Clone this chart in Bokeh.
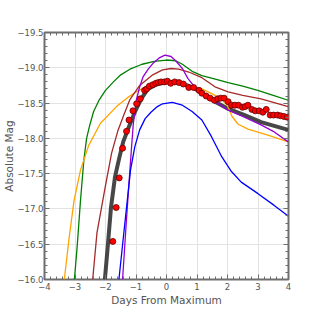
from bokeh.plotting import figure
from bokeh.models import Range1d, SingleIntervalTicker, LinearAxis, CustomJSTickFormatter, Grid, Title
from bokeh.embed import file_html
from bokeh.resources import INLINE

# ---- data ----
black_day = [-2.02, -1.92, -1.82, -1.69, -1.55, -1.42, -1.2, -1.04, -0.83, -0.61, -0.3, 0.1, 0.3, 0.52, 0.95, 1.27, 1.59, 2.02, 2.56, 3.10, 3.99]
black_mag = [-16.0, -16.5, -17.02, -17.45, -17.72, -17.95, -18.2, -18.37, -18.56, -18.70, -18.77, -18.80, -18.80, -18.78, -18.70, -18.61, -18.52, -18.42, -18.33, -18.23, -18.12]

green_day = [-3.02, -2.93, -2.82, -2.71, -2.62, -2.52, -2.39, -2.2, -2.0, -1.74, -1.5, -1.2, -0.8, -0.4, 0.0, 0.3, 0.52, 0.84, 1.16, 1.6, 2.02, 2.5, 2.99, 3.5, 3.99]
green_mag = [-16.0, -16.46, -17.12, -17.69, -18.0, -18.18, -18.38, -18.55, -18.68, -18.80, -18.9, -18.98, -19.05, -19.09, -19.11, -19.10, -19.05, -18.95, -18.89, -18.84, -18.79, -18.74, -18.68, -18.61, -18.54]

orange_day = [-3.35, -3.19, -3.03, -2.82, -2.55, -2.17, -1.64, -1.3, -0.99, -0.45, 0.0, 0.3, 0.6, 0.9, 1.16, 1.5, 1.8, 2.0, 2.15, 2.35, 2.67, 3.3, 3.99]
orange_mag = [-16.0, -16.60, -17.12, -17.55, -17.90, -18.21, -18.45, -18.57, -18.66, -18.78, -18.81, -18.80, -18.77, -18.72, -18.70, -18.63, -18.56, -18.46, -18.31, -18.2, -18.13, -18.05, -17.95]

brown_day = [-2.42, -2.28, -2.01, -1.80, -1.6, -1.4, -1.2, -0.88, -0.45, -0.13, 0.15, 0.4, 0.73, 1.16, 1.59, 2.02, 2.5, 3.10, 3.99]
brown_mag = [-16.0, -16.66, -17.31, -17.79, -18.1, -18.33, -18.55, -18.75, -18.90, -18.97, -18.99, -18.98, -18.94, -18.86, -18.73, -18.66, -18.61, -18.56, -18.45]

purple_day = [-1.44, -1.32, -1.2, -1.15, -1.09, -0.99, -0.88, -0.77, -0.6, -0.45, -0.24, -0.05, 0.15, 0.3, 0.52, 0.7, 0.9, 1.2, 1.6, 2.02, 2.5, 3.10, 3.5, 3.99]
purple_mag = [-16.0, -16.8, -17.55, -17.85, -18.2, -18.54, -18.73, -18.87, -18.98, -19.06, -19.14, -19.18, -19.16, -19.10, -18.99, -18.85, -18.74, -18.65, -18.52, -18.40, -18.31, -18.19, -18.1, -17.95]

blue_day = [-1.56, -1.37, -1.18, -1.04, -0.88, -0.7, -0.51, -0.3, -0.13, 0.19, 0.52, 0.84, 1.16, 1.48, 1.81, 2.13, 2.45, 2.99, 3.53, 3.99]
blue_mag = [-16.0, -16.78, -17.55, -17.88, -18.12, -18.28, -18.37, -18.45, -18.49, -18.51, -18.47, -18.38, -18.26, -18.02, -17.74, -17.53, -17.38, -17.22, -17.05, -16.90]

obs_day = [-1.76, -1.65, -1.55, -1.44, -1.31, -1.23, -1.10, -0.98, -0.86, -0.72, -0.65, -0.56, -0.45, -0.35, -0.27, -0.18,
           -0.07, 0.03, 0.14, 0.27, 0.41, 0.55, 0.73, 0.89, 1.07, 1.16, 1.30, 1.43, 1.57, 1.68, 1.78, 1.89, 2.02, 2.13,
           2.24, 2.36, 2.49, 2.58, 2.67, 2.80, 2.91, 3.04, 3.16, 3.27, 3.40, 3.51, 3.64, 3.74, 3.85, 3.96]
obs_mag = [-16.54, -17.02, -17.44, -17.86, -18.10, -18.26, -18.39, -18.49, -18.56, -18.68, -18.70, -18.74, -18.76, -18.78, -18.79, -18.80,
           -18.80, -18.81, -18.78, -18.80, -18.79, -18.77, -18.72, -18.72, -18.68, -18.64, -18.60, -18.57, -18.54, -18.56, -18.57, -18.57, -18.52, -18.47,
           -18.47, -18.47, -18.44, -18.45, -18.47, -18.41, -18.39, -18.39, -18.37, -18.41, -18.33, -18.33, -18.33, -18.32, -18.31, -18.30]

x_label = "Days From Maximum"
y_label = "Absolute Mag"

FONT = "DejaVu Sans"
GRAY = "#555555"
EDGE = "#6e6e6e"

p = figure(width=320, height=320, output_backend="svg", toolbar_location=None,
           x_range=Range1d(-4, 4), y_range=Range1d(-16.0, -19.5),
           x_axis_location=None, y_axis_location=None,
           min_border_left=40, min_border_right=32, min_border_top=32, min_border_bottom=41)
p.background_fill_color = "white"
p.border_fill_color = "white"
p.outline_line_color = EDGE
p.outline_line_width = 2

xtick = SingleIntervalTicker(interval=1, num_minor_ticks=5)
ytick = SingleIntervalTicker(interval=0.5, num_minor_ticks=5)
xfmt = CustomJSTickFormatter(code="return tick.toFixed(0).replace('-', '\u2212');")
yfmt = CustomJSTickFormatter(code="return tick.toFixed(1).replace('-', '\u2212');")

def style(ax, labels):
    ax.axis_line_color = None
    ax.major_tick_in = 5
    ax.major_tick_out = 0
    ax.minor_tick_in = 3
    ax.minor_tick_out = 0
    ax.major_tick_line_color = EDGE
    ax.minor_tick_line_color = EDGE
    ax.major_tick_line_width = 1
    ax.minor_tick_line_width = 1
    if labels:
        ax.major_label_text_font = FONT
        ax.major_label_text_font_size = "8.5px"
        ax.major_label_text_color = GRAY
        ax.major_label_standoff = 3
        ax.axis_label_text_font = FONT
        ax.axis_label_text_font_size = "10.5px"
        ax.axis_label_text_font_style = "normal"
        ax.axis_label_text_color = GRAY
        ax.axis_label_standoff = 1
    else:
        ax.major_label_text_color = None
        ax.major_label_standoff = 0

bottom = LinearAxis(ticker=xtick, formatter=xfmt, axis_label=x_label)
left = LinearAxis(ticker=ytick, formatter=yfmt)
top = LinearAxis(ticker=xtick, formatter=xfmt)
right = LinearAxis(ticker=ytick, formatter=yfmt)
style(bottom, True)
style(left, True)
style(top, False)
style(right, False)
left.major_label_standoff = 1
p.add_layout(bottom, "below")
p.add_layout(left, "left")
p.add_layout(top, "above")
p.add_layout(right, "right")

# y-axis title as a rotated side title, outside the tick labels
ytitle = Title(text=y_label, align="center", text_font=FONT, text_font_size="10.5px",
               text_font_style="normal", text_color=GRAY, standoff=0, offset=0)
p.add_layout(ytitle, "left")

p.add_layout(Grid(dimension=0, ticker=xtick, grid_line_color="#e3e3e3", grid_line_width=1))
p.add_layout(Grid(dimension=1, ticker=ytick, grid_line_color="#e3e3e3", grid_line_width=1))

p.line(black_day, black_mag, line_color="#333333", line_alpha=0.9, line_width=4)
p.line(green_day, green_mag, line_color="green", line_width=1.3)
p.line(orange_day, orange_mag, line_color="orange", line_width=1.3)
p.line(brown_day, brown_mag, line_color="brown", line_width=1.3)
p.line(purple_day, purple_mag, line_color="darkviolet", line_width=1.3)
p.line(blue_day, blue_mag, line_color="blue", line_width=1.3)
p.scatter(obs_day, obs_mag, size=6, fill_color="red", line_color="#600000", line_width=0.8)

open("out.html", "w").write(file_html(p, INLINE))
